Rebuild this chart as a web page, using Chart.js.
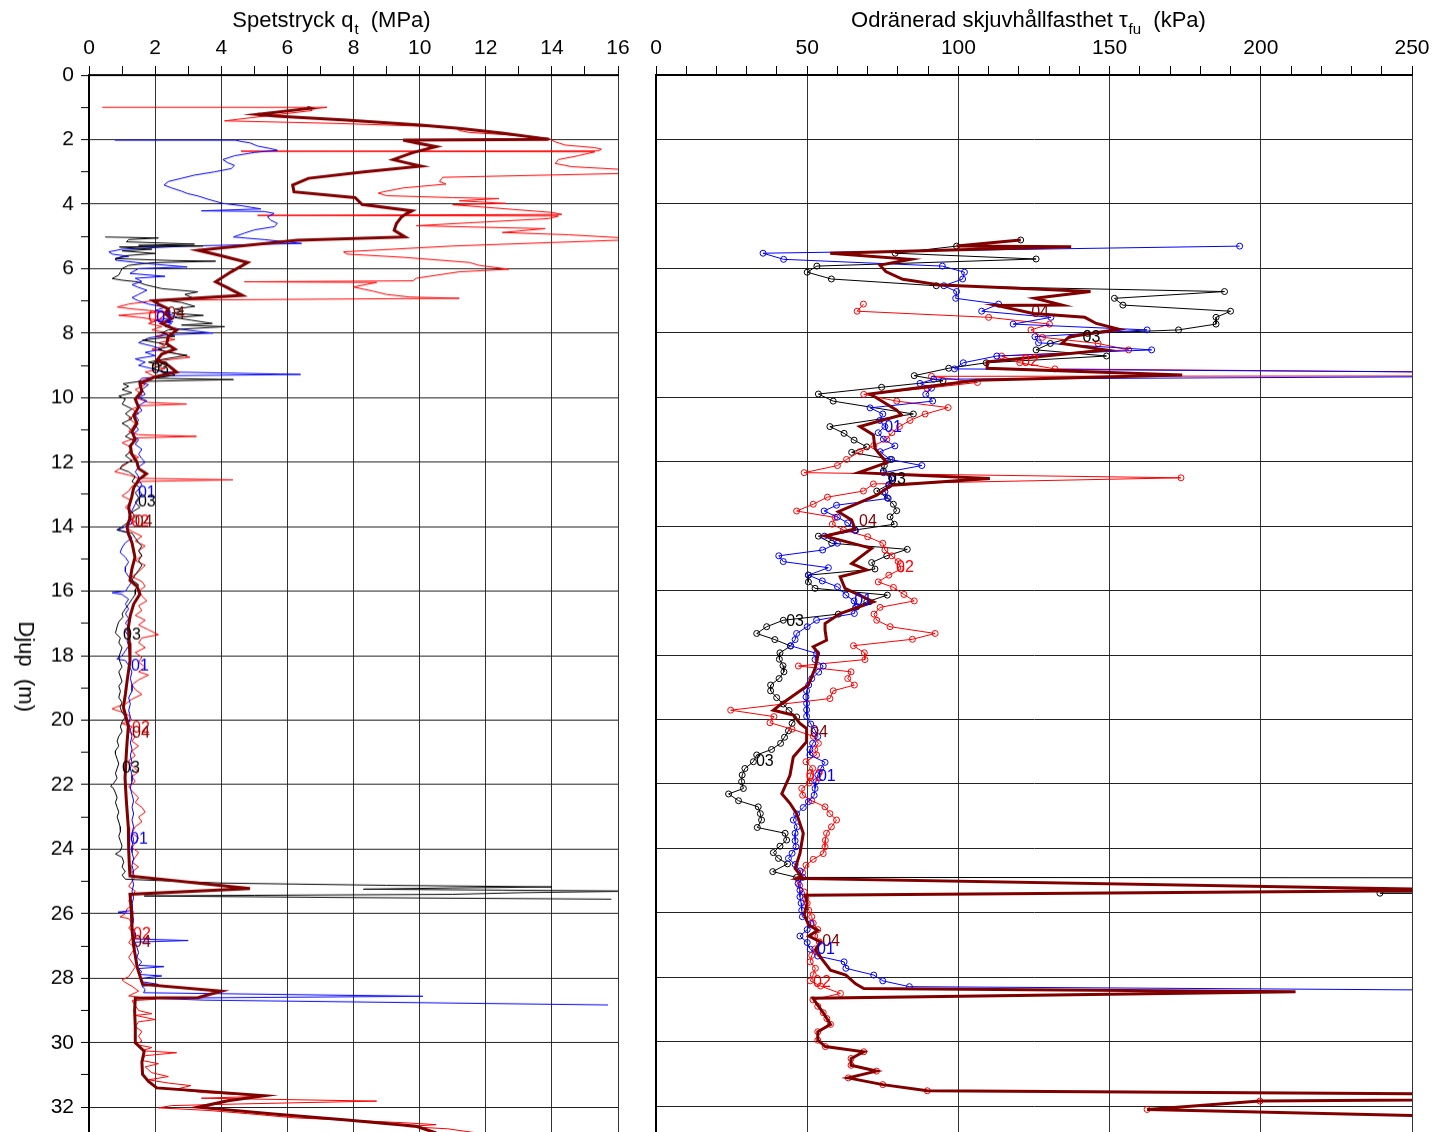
<!DOCTYPE html>
<html>
<head>
<meta charset="utf-8">
<script src="https://cdn.jsdelivr.net/npm/chart.js@4.4.1/dist/chart.umd.min.js"></script>
<style>
  html, body { margin:0; padding:0; background:#fff; }
  #wrap { position:relative; width:1437px; height:1132px; overflow:hidden; }
  .box { position:absolute; top:0; height:1132px; }
  #boxL { left:0; width:640px; }
  #boxR { left:640px; width:797px; }
</style>
</head>
<body>
<div id="wrap">
  <div class="box" id="boxL"><canvas id="cptChart"></canvas></div>
  <div class="box" id="boxR"><canvas id="tauChart"></canvas></div>
</div>
<script>
// depth (m), value -- CPT tip resistance qt (MPa)
const qt01 = [[2.02,0.78],[2.02,4.43],[2.06,4.6],[2.10,4.86],[2.20,5.1],[2.28,5.5],[2.33,5.7],[2.40,5.0],[2.50,4.4],[2.62,4.05],[2.72,4.2],[2.80,4.4],[2.90,4.3],[3.00,3.8],[3.10,3.2],[3.20,2.8],[3.30,2.4],[3.41,2.27],[3.50,2.5],[3.60,2.8],[3.67,2.97],[3.75,3.3],[3.85,3.6],[3.98,4.05],[4.05,4.6],[4.15,5.2],[4.21,3.4],[4.23,5.3],[4.29,5.6],[4.40,5.4],[4.50,5.5],[4.60,5.7],[4.70,5.6],[4.80,5.0],[4.90,4.7],[5.02,4.37],[5.10,5.3],[5.22,6.43],[5.30,3.0],[5.40,1.0],[5.48,0.6],[5.55,0.7],[5.62,1.2],[5.68,0.8],[5.74,0.81],[5.85,1.8],[5.95,2.97],[6.00,1.5],[6.15,1.24],[6.24,2.3],[6.30,1.4],[6.40,1.6],[6.50,1.3],[6.57,1.46],[6.67,1.75],[6.80,1.5],[6.90,1.3],[7.00,1.5],[7.10,1.8],[7.20,2.3],[7.30,2.0],[7.40,2.4],[7.50,2.65],[7.60,2.0],[7.70,2.5],[7.80,2.3],[7.90,2.9],[8.00,3.75],[8.05,2.4],[8.15,1.8],[8.30,1.5],[8.40,1.9],[8.50,2.2],[8.60,1.7],[8.70,2.0],[8.80,1.4],[8.90,1.7],[9.00,1.5],[9.10,1.9],[9.20,2.2],[9.28,6.4],[9.32,2.5],[9.40,1.6],[9.50,1.5],[9.60,1.8],[9.75,1.6],[9.90,1.7],[10.00,1.5],[10.10,1.75],[10.25,1.5],[10.40,1.6],[10.55,1.4],[10.70,1.5],[10.85,1.4],[11.00,1.5],[11.15,1.3],[11.30,1.5],[11.45,1.4],[11.60,1.6],[11.75,1.5],[11.90,1.6],[12.00,1.7],[12.15,1.5],[12.30,1.4],[12.45,1.5],[12.55,1.5],[12.70,1.6],[12.85,1.5],[13.00,1.6],[13.15,1.5],[13.30,1.4],[13.50,1.3],[13.70,1.2],[13.90,1.3],[14.05,1.0],[14.10,0.84],[14.20,1.2],[14.35,1.3],[14.50,1.1],[14.65,1.0],[14.80,0.94],[14.95,1.1],[15.10,1.2],[15.25,1.1],[15.40,1.1],[15.55,1.2],[15.70,1.3],[15.85,1.2],[16.00,1.1],[16.05,0.7],[16.10,1.0],[16.25,1.2],[16.40,1.1],[16.55,1.2],[16.70,1.1],[16.85,1.2],[17.00,1.1],[17.10,1.2],[17.25,1.1],[17.40,1.2],[17.55,1.15],[17.70,1.2],[17.85,1.1],[18.00,1.0],[18.10,0.84],[18.15,1.1],[18.30,1.2],[18.50,1.3],[18.70,1.25],[18.90,1.3],[19.10,1.3],[19.30,1.2],[19.50,1.25],[19.70,1.2],[19.90,1.25],[20.10,1.2],[20.30,1.25],[20.50,1.3],[20.70,1.25],[20.90,1.3],[21.10,1.25],[21.30,1.3],[21.50,1.25],[21.70,1.3],[21.90,1.3],[22.10,1.25],[22.30,1.3],[22.50,1.35],[22.70,1.3],[22.90,1.35],[23.10,1.3],[23.30,1.35],[23.50,1.3],[23.70,1.35],[23.90,1.3],[24.10,1.3],[24.30,1.35],[24.50,1.3],[24.70,1.35],[24.90,1.3],[25.10,1.35],[25.30,1.3],[25.50,1.35],[25.70,1.3],[25.90,1.3],[25.95,0.88],[26.00,1.3],[26.20,1.35],[26.40,1.3],[26.60,1.4],[26.78,1.4],[26.83,3.0],[26.88,1.4],[27.05,1.45],[27.20,1.5],[27.35,1.45],[27.50,1.6],[27.60,1.5],[27.64,2.27],[27.70,1.5],[27.80,1.6],[27.88,1.5],[27.93,2.2],[28.00,1.6],[28.10,1.55],[28.19,2.1],[28.25,1.6],[28.35,1.7],[28.45,1.65],[28.56,10.1],[28.62,1.9],[28.68,3.5],[28.83,15.7]];

const qt02 = [[1.00,0.40],[1.00,7.20],[1.06,6.70],[1.10,6.75],[1.42,4.10],[1.50,7.5],[1.60,10.5],[1.65,11.1],[1.72,11.2],[1.78,11.5],[1.85,12.6],[1.96,13.9],[2.07,14.1],[2.17,14.4],[2.25,15.3],[2.30,15.5],[2.35,15.4],[2.36,4.6],[2.38,15.3],[2.50,14.8],[2.62,14.2],[2.74,14.1],[2.84,14.6],[2.93,16.2],[3.05,16.2],[3.17,10.7],[3.30,10.6],[3.38,10.8],[3.50,9.5],[3.62,8.9],[3.66,8.75],[3.74,9.0],[3.80,11.0],[3.83,12.4],[3.90,11.2],[3.98,12.6],[4.02,11.0],[4.10,12.0],[4.26,14.0],[4.32,14.3],[4.35,5.1],[4.37,14.2],[4.45,13.9],[4.58,11.5],[4.67,9.9],[4.72,12.0],[4.76,13.8],[4.88,12.5],[4.95,14.5],[5.05,16.2],[5.12,16.0],[5.30,11.0],[5.48,7.7],[5.55,7.8],[5.65,9.5],[5.81,11.5],[5.90,11.8],[6.02,12.7],[6.10,11.2],[6.30,9.9],[6.38,9.8],[6.41,4.7],[6.43,8.7],[6.57,8.0],[6.70,8.6],[6.80,9.0],[6.88,9.7],[6.92,11.2],[6.98,2.05],[7.10,1.2],[7.19,0.86],[7.25,1.3],[7.34,2.3],[7.40,1.5],[7.45,0.9],[7.52,1.6],[7.60,2.1],[7.70,1.8],[7.80,2.2],[7.90,1.9],[8.00,2.4],[8.10,2.0],[8.20,2.6],[8.30,2.1],[8.40,2.3],[8.50,1.9],[8.60,2.5],[8.75,3.05],[8.85,2.2],[9.00,1.9],[9.10,2.3],[9.20,1.7],[9.35,2.0],[9.50,1.5],[9.60,1.7],[9.75,1.4],[9.90,1.6],[10.00,1.4],[10.15,1.8],[10.20,2.95],[10.25,1.6],[10.35,1.3],[10.50,1.5],[10.65,1.2],[10.80,1.4],[10.95,1.3],[11.05,1.2],[11.15,1.5],[11.20,3.25],[11.25,1.4],[11.40,1.0],[11.55,1.3],[11.70,1.2],[11.85,1.5],[12.00,1.2],[12.15,1.0],[12.30,0.78],[12.40,1.2],[12.50,1.5],[12.55,4.35],[12.60,1.6],[12.75,1.3],[12.90,1.2],[13.05,1.0],[13.20,1.3],[13.40,1.1],[13.55,1.3],[13.70,1.2],[13.85,1.4],[14.00,1.1],[14.15,1.3],[14.30,1.6],[14.45,1.4],[14.60,1.7],[14.75,1.5],[14.90,1.6],[15.05,1.4],[15.20,1.7],[15.40,1.5],[15.55,1.3],[15.70,1.6],[15.85,1.7],[16.00,1.5],[16.15,1.6],[16.30,1.75],[16.45,1.5],[16.60,1.6],[16.75,1.4],[16.90,1.7],[17.05,1.5],[17.20,1.8],[17.35,2.1],[17.45,1.6],[17.60,1.5],[17.75,1.7],[17.90,1.4],[18.05,1.6],[18.20,1.5],[18.35,1.7],[18.50,1.5],[18.60,1.8],[18.75,1.5],[18.90,1.3],[19.05,1.4],[19.20,1.6],[19.35,1.3],[19.50,1.1],[19.60,0.8],[19.65,0.7],[19.75,1.0],[19.85,1.2],[20.00,1.3],[20.10,1.0],[20.20,1.3],[20.35,1.2],[20.50,1.4],[20.65,1.3],[20.80,1.5],[20.95,1.3],[21.10,1.4],[21.25,1.2],[21.40,1.3],[21.60,1.5],[21.75,1.3],[21.90,1.4],[22.05,1.2],[22.20,1.3],[22.40,1.5],[22.55,1.4],[22.70,1.6],[22.85,1.7],[23.00,1.5],[23.15,1.6],[23.30,1.4],[23.50,1.3],[23.65,1.5],[23.80,1.4],[23.95,1.3],[24.10,1.5],[24.25,1.4],[24.40,1.3],[24.55,1.5],[24.70,1.3],[24.85,1.4],[25.00,1.3],[25.15,1.2],[25.30,1.4],[25.45,1.3],[25.60,1.2],[25.75,1.3],[25.85,1.15],[26.00,1.1],[26.10,0.94],[26.15,1.2],[26.30,1.3],[26.45,1.2],[26.60,1.4],[26.75,1.3],[26.90,1.2],[27.05,1.4],[27.20,1.3],[27.35,1.2],[27.50,1.3],[27.65,1.4],[27.80,1.3],[27.95,1.2],[28.05,1.0],[28.12,1.08],[28.25,1.3],[28.40,1.5],[28.55,1.2],[28.65,2.0],[28.70,1.3],[28.85,1.4],[29.00,1.5],[29.10,1.9],[29.15,1.4],[29.28,2.0],[29.35,1.5],[29.50,1.4],[29.65,1.6],[29.80,1.5],[29.95,1.6],[30.05,1.4],[30.15,1.9],[30.25,1.6],[30.31,2.65],[30.40,1.7],[30.55,1.6],[30.65,2.1],[30.75,1.7],[30.93,1.9],[31.05,2.4],[31.15,1.8],[31.25,2.4],[31.33,3.08],[31.45,2.6],[31.55,3.5],[31.66,5.35],[31.72,3.4],[31.81,8.7],[31.90,4.5],[31.95,2.5],[32.02,2.1],[32.10,3.6],[32.20,4.8],[32.33,6.2],[32.40,7.8],[32.48,9.5],[32.54,10.5],[32.60,9.6],[32.67,10.85],[32.75,11.4],[32.82,11.9]];

const qt03 = [[5.02,0.49],[5.05,2.1],[5.10,1.2],[5.17,1.13],[5.20,2.0],[5.24,3.19],[5.28,1.5],[5.30,3.45],[5.33,0.92],[5.40,1.9],[5.45,1.0],[5.53,2.0],[5.60,1.1],[5.69,0.81],[5.75,2.5],[5.77,3.83],[5.82,1.9],[5.90,1.2],[6.00,1.0],[6.10,0.95],[6.20,0.9],[6.31,0.70],[6.36,1.0],[6.41,1.46],[6.50,1.7],[6.62,2.2],[6.72,3.29],[6.80,2.9],[6.93,3.19],[6.98,2.3],[7.05,2.8],[7.17,3.2],[7.25,2.6],[7.32,2.86],[7.38,2.5],[7.45,3.46],[7.52,2.6],[7.60,3.1],[7.70,3.73],[7.75,2.8],[7.80,4.1],[7.90,2.4],[8.00,2.2],[8.10,2.6],[8.22,1.62],[8.30,2.1],[8.40,2.5],[8.50,2.1],[8.60,2.4],[8.69,2.97],[8.80,2.3],[8.90,1.8],[9.00,2.2],[9.10,1.9],[9.20,2.3],[9.30,2.6],[9.40,2.0],[9.44,4.37],[9.50,1.5],[9.57,1.03],[9.65,1.2],[9.75,1.0],[9.85,1.3],[9.95,0.9],[10.05,1.1],[10.20,1.0],[10.35,1.3],[10.50,1.1],[10.65,1.3],[10.80,1.0],[10.90,1.18],[11.05,1.3],[11.20,1.1],[11.35,1.4],[11.50,1.2],[11.65,1.3],[11.80,1.1],[11.95,1.3],[12.10,1.0],[12.20,0.94],[12.30,1.2],[12.45,1.4],[12.60,1.3],[12.80,1.54],[12.95,1.4],[13.10,1.5],[13.25,1.4],[13.40,1.54],[13.55,1.3],[13.70,1.4],[13.85,1.2],[14.00,1.0],[14.10,0.85],[14.20,1.3],[14.35,1.4],[14.50,1.5],[14.60,1.6],[14.75,1.5],[14.90,1.6],[15.05,1.5],[15.20,1.6],[15.35,1.5],[15.50,1.4],[15.65,1.3],[15.80,1.5],[15.95,1.4],[16.10,1.4],[16.25,1.3],[16.40,1.2],[16.55,1.1],[16.70,1.0],[16.80,1.03],[16.95,0.9],[17.10,0.85],[17.30,0.80],[17.45,0.95],[17.60,0.9],[17.75,1.0],[17.90,0.95],[18.05,0.9],[18.20,0.94],[18.35,1.0],[18.50,0.9],[18.65,0.95],[18.80,1.0],[18.95,0.9],[19.10,0.95],[19.30,0.9],[19.45,1.0],[19.60,0.94],[19.75,1.0],[19.90,1.1],[20.05,1.0],[20.20,0.95],[20.35,1.0],[20.50,0.9],[20.65,0.85],[20.80,0.9],[20.95,0.8],[21.05,0.8],[21.20,0.85],[21.35,0.9],[21.50,0.85],[21.65,0.8],[21.80,0.85],[21.95,0.75],[22.05,0.65],[22.10,0.73],[22.25,0.8],[22.40,0.85],[22.55,0.8],[22.70,0.85],[22.85,0.9],[23.00,0.85],[23.15,0.9],[23.30,0.94],[23.45,0.95],[23.60,0.9],[23.75,0.95],[23.90,1.0],[24.05,0.95],[24.15,0.8],[24.25,1.0],[24.40,1.05],[24.55,1.0],[24.70,1.1],[24.80,1.0],[24.93,1.1],[25.05,4.0],[25.12,9.0],[25.17,14.0],[25.20,11.0],[25.24,8.3],[25.27,12.5],[25.30,16.5],[25.35,13.0],[25.40,11.0],[25.43,5.0],[25.45,1.67],[25.50,8.0],[25.55,15.8]];

const qt04 = [[1.00,6.60],[1.03,6.7],[1.22,5.1],[1.27,5.67],[1.40,7.8],[1.55,10.04],[1.65,11.2],[1.80,12.5],[1.99,13.9],[2.02,9.5],[2.10,9.9],[2.22,10.5],[2.40,9.8],[2.62,9.2],[2.72,9.6],[2.82,10.04],[3.00,8.3],[3.20,6.64],[3.41,6.16],[3.62,6.2],[3.80,8.05],[4.01,8.26],[4.21,9.77],[4.30,9.6],[4.40,9.45],[4.60,9.3],[4.81,9.23],[5.02,9.56],[5.12,6.3],[5.43,3.3],[5.60,4.0],[5.81,4.8],[6.10,4.3],[6.41,3.83],[6.60,4.2],[6.83,4.64],[7.00,1.94],[7.10,2.1],[7.25,2.4],[7.40,2.3],[7.55,2.5],[7.70,2.2],[7.91,2.65],[8.10,2.4],[8.33,2.35],[8.50,2.6],[8.65,2.2],[8.85,2.05],[9.00,2.4],[9.21,2.65],[9.35,2.0],[9.57,1.54],[9.80,1.6],[10.05,1.4],[10.30,1.5],[10.55,1.35],[10.80,1.45],[11.05,1.3],[11.30,1.4],[11.50,1.25],[11.74,1.29],[12.00,1.45],[12.20,1.5],[12.36,1.74],[12.55,1.5],[12.80,1.35],[13.09,1.29],[13.40,1.2],[13.70,1.25],[14.00,1.15],[14.22,1.19],[14.50,1.3],[14.75,1.35],[14.95,1.39],[15.30,1.3],[15.67,1.24],[15.85,1.45],[16.09,1.54],[16.40,1.35],[16.75,1.25],[17.12,1.19],[17.60,1.22],[18.16,1.24],[18.80,1.15],[19.20,1.1],[19.60,1.04],[19.90,1.12],[20.20,1.19],[20.70,1.15],[21.20,1.12],[21.80,1.09],[22.50,1.13],[23.33,1.19],[24.00,1.2],[24.50,1.22],[24.83,1.24],[25.22,4.87],[25.40,1.24],[25.90,1.28],[26.50,1.3],[27.00,1.35],[27.67,1.46],[28.19,1.62],[28.40,4.0],[28.60,3.3],[28.62,1.4],[29.00,1.38],[29.50,1.4],[30.00,1.4],[30.26,1.67],[30.60,1.6],[30.98,1.62],[31.20,1.8],[31.40,2.05],[31.64,5.3],[31.80,4.2],[32.00,3.3],[32.20,5.5],[32.40,7.8],[32.59,9.9],[32.80,10.5]];

// depth (m), value -- undrained shear strength tau_fu (kPa)
const tau01 = [[5.31,193],[5.53,35.4],[5.72,42.2],[5.93,94.7],[6.12,102],[6.33,101.4],[6.54,95.2],[6.72,99.4],[6.93,99.1],[7.11,113.3],[7.33,107.7],[7.52,130.6],[7.73,118.1],[7.91,162.4],[8.12,125.3],[8.31,126.5],[8.53,163.9],[8.72,112.7],[8.93,101.6],[9.12,98.7],[9.30,400],[9.44,91.8],[9.57,87.3],[9.72,91.1],[9.91,89.2],[10.12,91.5],[10.33,70.8],[10.52,75.0],[10.72,74.0],[10.91,75.7],[11.10,73.5],[11.30,75.2],[11.51,79.0],[11.69,74.1],[11.93,77.4],[12.12,87.9],[12.34,75.2],[12.53,78.0],[12.73,77.0],[12.93,75.7],[13.14,76.8],[13.35,59.7],[13.53,55.6],[13.72,60.0],[13.90,63.4],[14.14,66.0],[14.31,55.7],[14.53,60.0],[14.74,55.1],[14.92,40.6],[15.10,42.1],[15.29,57.0],[15.52,50.4],[15.70,55.0],[15.88,60.0],[16.14,62.8],[16.32,65.5],[16.52,66.0],[16.71,65.6],[16.92,53.1],[17.12,50.0],[17.33,46.5],[17.52,46.0],[17.71,44.5],[17.95,53.1],[18.14,52.6],[18.34,55.3],[18.53,53.8],[18.73,51.5],[18.93,50.5],[19.11,49.8],[19.30,49.6],[19.50,49.8],[19.70,49.8],[19.90,49.8],[20.14,51.2],[20.33,52.6],[20.53,53.5],[20.74,51.8],[20.93,50.9],[21.10,50.9],[21.33,55.9],[21.52,54.5],[21.72,53.5],[21.93,52.9],[22.14,52.6],[22.35,52.3],[22.55,50.4],[22.73,48.7],[22.93,46.5],[23.12,45.4],[23.33,46.7],[23.53,46.0],[23.76,46.0],[23.95,46.3],[24.15,45.0],[24.31,43.8],[24.50,46.0],[24.70,47.6],[24.90,48.5],[25.09,47.0],[25.30,47.6],[25.50,47.6],[25.70,48.0],[25.92,48.2],[26.12,48.4],[26.33,51.3],[26.52,50.0],[26.72,47.6],[26.92,50.0],[27.13,51.0],[27.34,53.5],[27.52,62.2],[27.72,62.8],[27.93,72.0],[28.11,75.0],[28.29,83.8],[28.45,350]];

const tau02 = [[7.11,68.6],[7.33,66.5],[7.52,110.0],[7.73,130.1],[7.91,124.0],[8.14,127.8],[8.33,146.2],[8.53,156.3],[8.72,114.3],[8.93,120.3],[9.12,131.9],[9.33,400],[9.35,91.1],[9.54,106.3],[9.72,89.6],[9.91,68.7],[10.12,79.6],[10.32,96.6],[10.52,89.0],[10.72,84.0],[10.91,80.5],[11.10,78.0],[11.31,76.3],[11.50,72.0],[11.69,67.4],[11.93,63.0],[12.12,60.0],[12.34,49.0],[12.50,173.6],[12.69,71.9],[12.91,68.6],[13.10,56.7],[13.32,52.0],[13.53,46.5],[13.73,59.2],[13.94,58.3],[14.12,62.0],[14.33,70.0],[14.53,75.0],[14.74,75.7],[14.92,78.0],[15.10,80.1],[15.33,81.0],[15.52,77.0],[15.73,73.5],[15.90,78.5],[16.12,82.0],[16.32,85.4],[16.52,74.1],[16.73,72.1],[16.92,73.0],[17.12,77.4],[17.33,92.3],[17.51,84.8],[17.71,65.3],[17.93,68.9],[18.14,69.1],[18.34,47.1],[18.52,64.5],[18.73,63.4],[18.93,65.6],[19.11,58.6],[19.35,57.5],[19.71,24.7],[19.91,39.0],[20.10,37.7],[20.30,45.0],[20.52,52.0],[20.74,53.7],[20.93,52.5],[21.10,53.1],[21.31,49.6],[21.52,51.8],[21.75,51.0],[21.97,50.7],[22.14,48.2],[22.35,48.5],[22.52,51.5],[22.71,55.9],[22.92,57.5],[23.12,59.7],[23.33,58.0],[23.53,56.4],[23.75,56.0],[23.95,55.9],[24.16,55.3],[24.34,52.0],[24.52,49.6],[24.75,48.5],[24.96,47.1],[25.15,47.5],[25.35,49.0],[25.55,49.5],[25.70,50.0],[25.92,50.5],[26.12,51.5],[26.32,52.0],[26.52,53.5],[26.72,52.5],[26.90,54.0],[27.12,52.5],[27.32,51.5],[27.52,51.0],[27.72,52.7],[27.92,52.0],[28.11,51.0],[28.27,54.4],[28.50,61.0],[28.70,51.9],[28.90,53.5],[29.10,55.3],[29.28,56.5],[29.46,57.7],[29.69,53.5],[29.95,53.5],[30.15,56.0],[30.31,68.7],[30.52,64.5],[30.73,64.5],[30.91,72.9],[31.12,63.6],[31.33,75.0],[31.52,89.7],[31.70,400],[31.84,199.7],[32.10,162.4]];

const tau03 = [[5.12,120.6],[5.31,99.4],[5.53,79.1],[5.71,125.7],[5.93,53.2],[6.12,50.0],[6.33,58.0],[6.54,92.7],[6.72,188],[6.93,151.6],[7.14,154.4],[7.33,190],[7.52,185.2],[7.73,185.2],[7.91,172.8],[8.02,142.7],[8.33,130.4],[8.53,125.7],[8.72,149],[8.93,109.2],[9.10,96.8],[9.33,85.4],[9.49,94.9],[9.69,74.6],[9.90,53.7],[10.12,58.6],[10.52,85.1],[10.91,57.5],[11.12,62.2],[11.33,65.5],[11.54,69.7],[11.71,64.7],[11.93,77.9],[12.12,75.5],[12.29,75.2],[12.50,78.0],[12.71,77.0],[12.91,73.0],[13.12,76.5],[13.32,78.5],[13.52,79.6],[13.71,77.4],[13.94,78.8],[14.12,65.8],[14.31,53.7],[14.53,58.1],[14.72,83.1],[14.92,76.3],[15.13,71.3],[15.33,72.4],[15.52,50.4],[15.73,50.4],[15.93,52.6],[16.14,76.5],[16.35,69.7],[16.50,66.4],[16.73,60.3],[16.92,42.1],[17.12,36.6],[17.33,33.3],[17.52,39.3],[17.72,44.5],[17.93,41.0],[18.13,40.8],[18.33,42.0],[18.52,42.3],[18.73,40.7],[18.93,37.9],[19.11,37.9],[19.32,39.9],[19.52,42.1],[19.72,44.0],[19.92,46.5],[20.12,45.0],[20.35,43.8],[20.55,42.5],[20.74,41.2],[20.93,38.2],[21.10,33.3],[21.31,32.2],[21.52,29.4],[21.72,28.5],[21.93,28.3],[22.14,28.9],[22.31,24.0],[22.52,27.3],[22.71,33.8],[22.92,34.5],[23.12,34.9],[23.35,33.5],[23.53,42.7],[23.74,43.2],[23.93,41.0],[24.13,38.8],[24.31,40.5],[24.48,43.5],[24.72,38.6],[24.90,46.5],[25.00,2000],[25.39,239.4],[25.40,2000]];

const tau04 = [[5.12,120.6],[5.31,99.4],[5.33,137.3],[5.53,57.6],[5.72,84.2],[5.90,74.1],[6.10,76.0],[6.34,81.6],[6.52,94.3],[6.62,119.6],[6.72,143.7],[6.93,125.3],[7.14,134.2],[7.15,112.7],[7.40,124.7],[7.52,141.8],[7.71,145.6],[7.89,153.2],[8.12,136.7],[8.33,134.2],[8.53,148.7],[8.90,109.5],[9.10,109.5],[9.31,174.0],[9.47,106.0],[9.90,70.8],[10.40,79.6],[10.55,81.2],[10.91,67.4],[11.17,71.9],[11.59,72.4],[12.03,76.3],[12.34,67.0],[12.52,110.4],[12.73,77.9],[13.04,73.0],[13.55,60.3],[13.81,64.7],[14.09,65.8],[14.31,55.9],[14.69,71.3],[15.16,64.7],[15.36,69.7],[15.57,60.9],[15.93,62.5],[16.35,71.9],[16.71,60.9],[17.02,55.9],[17.22,55.9],[17.54,56.4],[17.74,52.0],[17.95,53.7],[18.41,52.6],[18.93,50.4],[19.55,41.0],[19.71,38.8],[19.86,45.4],[20.12,47.6],[20.28,49.8],[20.69,49.8],[21.16,45.4],[21.73,44.3],[22.30,41.6],[22.60,44.3],[22.92,46.5],[23.53,48.7],[24.16,47.6],[24.62,46.0],[24.88,48.2],[24.93,46.8],[25.30,275],[25.45,49.3],[25.70,50.0],[26.05,49.0],[26.38,50.5],[26.54,53.5],[26.72,50.5],[26.90,54.4],[27.16,52.7],[27.45,55.0],[27.78,57.7],[27.93,62.8],[28.20,66.0],[28.35,68.7],[28.45,211.5],[28.65,51.9],[29.10,55.3],[29.46,57.7],[29.69,53.5],[29.95,53.5],[30.15,56.0],[30.31,68.7],[30.52,64.5],[30.73,64.5],[30.91,72.9],[31.12,63.6],[31.33,75.0],[31.52,89.7],[31.70,400],[31.84,199.7],[32.10,162.4],[32.40,300]];

// sounding tags: [id, value, depth]
const tagsLeft = [['02',2.06,7.54],['01',2.30,7.52],['04',2.63,7.39],['03',2.15,9.12],['01',1.75,12.97],['03',1.75,13.25],['02',1.55,13.87],['04',1.65,13.87],['03',1.30,17.38],['01',1.54,18.34],['02',1.57,20.24],['04',1.57,20.42],['03',1.27,21.48],['01',1.51,23.68],['02',1.60,26.63],['04',1.60,26.90]];
const tagsRight = [['04',127,7.36],['03',144,8.16],['02',123.7,8.9],['01',78.4,10.95],['03',79.7,12.57],['04',70.1,13.87],['02',82.3,15.3],['01',68.5,16.3],['03',46,16.95],['04',53.9,20.4],['03',36,21.32],['02',52.5,21.76],['01',56.5,21.76],['04',57.9,26.9],['01',56.2,27.13],['02',54.9,28.15]];

const qtTicks = [0,2,4,6,8,10,12,14,16];
const tauTicks = [0,50,100,150,200,250];
const depthTicks = [0,2,4,6,8,10,12,14,16,18,20,22,24,26,28,30,32];

const colors = { '01':'#0000ff', '02':'#ff0000', '03':'#000000', '04':'#800000' };
const FONT = "'Liberation Sans', Arial, Helvetica, sans-serif";
const PLOT_BOTTOM = 1132;

Chart.defaults.font.family = FONT;
Chart.defaults.font.size = 21;
Chart.defaults.color = '#000';

function pts(arr) { return arr.map(p => ({ x: p[1], y: p[0] })); }

function lineSet(id, arr, width, marker) {
  return {
    label: id,
    data: pts(arr),
    showLine: true,
    borderColor: colors[id],
    borderWidth: width,
    pointRadius: marker ? 3 : 0,
    pointBorderWidth: 1,
    pointBorderColor: colors[id],
    pointBackgroundColor: 'rgba(0,0,0,0)',
    tension: 0
  };
}

function subTitle(main, sub, tail, cx) {
  return {
    id: 'subTitle',
    afterDraw(chart) {
      const ctx = chart.ctx;
      ctx.save();
      ctx.fillStyle = '#000';
      ctx.textAlign = 'left';
      ctx.textBaseline = 'alphabetic';
      ctx.font = '22px ' + FONT;
      const w1 = ctx.measureText(main).width, w3 = ctx.measureText(tail).width;
      ctx.font = '15px ' + FONT;
      const w2 = ctx.measureText(sub).width;
      let x = cx - (w1 + w2 + w3) / 2;
      ctx.font = '22px ' + FONT;
      ctx.fillText(main, x, 27); x += w1;
      ctx.font = '15px ' + FONT;
      ctx.fillText(sub, x + 1, 34); x += w2 + 1;
      ctx.font = '22px ' + FONT;
      ctx.fillText(tail, x, 27);
      ctx.restore();
    }
  };
}

function tagPlugin(tags) {
  return {
    id: 'tags',
    afterDatasetsDraw(chart) {
      const ctx = chart.ctx, xs = chart.scales.x, ys = chart.scales.y;
      ctx.save();
      ctx.font = '16px ' + FONT;
      ctx.textAlign = 'center';
      ctx.textBaseline = 'middle';
      tags.forEach(t => {
        ctx.fillStyle = colors[t[0]];
        ctx.fillText(t[0], xs.getPixelForValue(t[1]), ys.getPixelForValue(t[2]));
      });
      ctx.restore();
    }
  };
}

const depthLabel = {
  id: 'depthLabel',
  afterDraw(chart) {
    const ctx = chart.ctx;
    ctx.save();
    ctx.translate(25, 666);
    ctx.rotate(Math.PI / 2);
    ctx.font = '22px ' + FONT;
    ctx.fillStyle = '#000';
    ctx.textAlign = 'center';
    ctx.textBaseline = 'middle';
    ctx.fillText('Djup  (m)', 0, 0);
    ctx.restore();
  }
};

function xAxis(max, step, major, labels) {
  return {
    type: 'linear', position: 'top', min: 0, max: max,
    afterFit(s) { s.height = 75; },
    ticks: { stepSize: step, autoSkip: false, maxRotation: 0, padding: 5,
             callback: v => labels.includes(v) ? String(v) : '' },
    grid: { color: c => (c.tick && c.tick.value % major === 0) ? '#333' : 'rgba(0,0,0,0)',
            tickColor: '#000', tickLength: 9, lineWidth: 1 },
    border: { display: true, color: '#000', width: 2 }
  };
}

function yAxis(showTicks, width) {
  return {
    type: 'linear', reverse: true, min: 0, max: 32.8,
    afterFit(s) { s.width = width; },
    ticks: { display: showTicks, stepSize: 1, autoSkip: false, padding: 7,
             callback: v => depthTicks.includes(v) ? String(v) : '' },
    grid: { color: c => (c.tick && depthTicks.includes(c.tick.value) && c.tick.value > 0) ? '#222' : 'rgba(0,0,0,0)',
            tickColor: c => (c.tick && Number.isInteger(c.tick.value)) ? '#000' : 'rgba(0,0,0,0)',
            drawTicks: showTicks, tickLength: 8, lineWidth: 1 },
    border: { display: true, color: '#000', width: 2 }
  };
}

const baseOpts = {
  responsive: true,
  maintainAspectRatio: false,
  animation: false,
  plugins: { legend: { display: false }, tooltip: { enabled: false }, title: { display: false } }
};

// stretch the holder so the plot area ends exactly at the page bottom (depth axis is cut there)
function fitBottom(chart, boxId) {
  const box = document.getElementById(boxId);
  const diff = PLOT_BOTTOM - chart.chartArea.bottom;
  if (Math.abs(diff) > 0.5) {
    box.style.height = (box.offsetHeight + diff) + 'px';
    chart.resize();
  }
}

const cptChart = new Chart(document.getElementById('cptChart'), {
  type: 'scatter',
  data: { datasets: [
    lineSet('04', qt04, 3, false),
    lineSet('03', qt03, 1, false),
    lineSet('01', qt01, 1, false),
    lineSet('02', qt02, 1, false)
  ]},
  options: Object.assign({}, baseOpts, {
    layout: { padding: { left: 0, right: 22, top: 0, bottom: 0 } },
    scales: { x: xAxis(16, 1, 2, qtTicks), y: yAxis(true, 89) }
  }),
  plugins: [subTitle('Spetstryck q', 't', '  (MPa)', 331), tagPlugin(tagsLeft), depthLabel]
});

const tauChart = new Chart(document.getElementById('tauChart'), {
  type: 'scatter',
  data: { datasets: [
    lineSet('04', tau04, 3, false),
    lineSet('01', tau01, 1, true),
    lineSet('02', tau02, 1, true),
    lineSet('03', tau03, 1, true)
  ]},
  options: Object.assign({}, baseOpts, {
    layout: { padding: { left: 0, right: 25, top: 0, bottom: 0 } },
    scales: { x: xAxis(250, 10, 50, tauTicks), y: yAxis(false, 16) }
  }),
  plugins: [subTitle('Odränerad skjuvhållfasthet τ', 'fu', '  (kPa)', 388), tagPlugin(tagsRight)]
});

fitBottom(cptChart, 'boxL');
fitBottom(tauChart, 'boxR');
</script>
</body>
</html>
